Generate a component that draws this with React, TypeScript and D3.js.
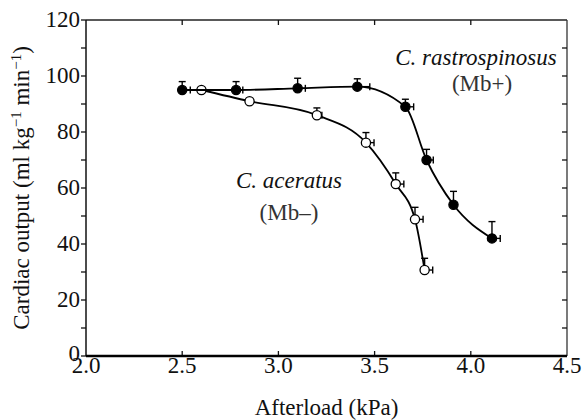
import * as d3 from 'd3'

// C. rastrospinosus (Mb+), filled symbols
const filledX = [2.5, 2.78, 3.1, 3.41, 3.66, 3.77, 3.91, 4.11]
const filledY = [95, 95, 95.6, 96.2, 89, 70, 54, 42]
const filledYErr = [3, 3, 3.6, 2.8, 2.7, 3.8, 4.8, 6]
const filledXErr = [0.042, 0.035, 0.04, 0.065, 0.043, 0.035, 0, 0.043]

// C. aceratus (Mb–), open symbols
const openX = [2.6, 2.85, 3.2, 3.455, 3.61, 3.71, 3.76]
const openY = [95, 91, 86, 76.2, 61.4, 48.8, 30.7]
const openYErr = [0, 0, 2.6, 3.6, 4, 4.3, 4.2]
const openXErr = [0, 0, 0.026, 0.042, 0.042, 0.042, 0.042]

const xTicks = [2.0, 2.5, 3.0, 3.5, 4.0, 4.5]
const yTicks = [0, 20, 40, 60, 80, 100, 120]
const yMinorTicks = d3.range(0, 121, 10)

const W = 586
const H = 420
const margin = { left: 86, right: 19, top: 20, bottom: 64 }
const FONT = '"Liberation Serif", "DejaVu Serif", serif'

const x = d3.scaleLinear().domain([2.0, 4.5]).range([margin.left, W - margin.right])
const y = d3.scaleLinear().domain([0, 120]).range([H - margin.bottom, margin.top])

const line = d3
  .line<[number, number]>()
  .x(d => x(d[0]))
  .y(d => y(d[1]))
  .curve(d3.curveMonotoneX)

function Series({ xs, ys, xErr, yErr, filled }: { xs: number[]; ys: number[]; xErr: number[]; yErr: number[]; filled: boolean }) {
  const pts = xs.map((v, i) => [v, ys[i]] as [number, number])
  const cap = 3.5
  return (
    <g>
      <path d={line(pts) || ''} fill="none" stroke="#000" strokeWidth={1.8} />
      {pts.map((p, i) => {
        const cx = x(p[0])
        const cy = y(p[1])
        const yTop = y(p[1] + yErr[i])
        const xRight = x(p[0] + xErr[i])
        return (
          <g key={i} stroke="#000" strokeWidth={1.4}>
            {yErr[i] > 0 && (
              <>
                <line x1={cx} x2={cx} y1={cy} y2={yTop} />
                <line x1={cx - cap} x2={cx + cap} y1={yTop} y2={yTop} />
              </>
            )}
            {xErr[i] > 0 && (
              <>
                <line x1={cx} x2={xRight} y1={cy} y2={cy} />
                <line x1={xRight} x2={xRight} y1={cy - cap} y2={cy + cap} />
              </>
            )}
            <circle cx={cx} cy={cy} r={4.6} fill={filled ? '#000' : '#fff'} strokeWidth={1.3} />
          </g>
        )
      })}
    </g>
  )
}

export default function App() {
  const [x0, x1] = x.range()
  const [y0, y1] = y.range()
  const tick = 5
  return (
    <svg width={W} height={H} style={{ position: 'absolute', left: 0, top: 0 }} fontFamily={FONT}>
      <rect width={W} height={H} fill="#fff" />

      {/* frame */}
      <line x1={x0} x2={x1} y1={y1} y2={y1} stroke="#222" strokeWidth={1.3} />
      <line x1={x1} x2={x1} y1={y1} y2={y0} stroke="#333" strokeWidth={1.3} />
      <line x1={x0} x2={x0} y1={y1} y2={y0} stroke="#111" strokeWidth={1.5} />

      {/* y ticks: outward on the left, inward on the right */}
      {yMinorTicks.map(t => (
        <g key={t} stroke="#111" strokeWidth={1.3}>
          <line x1={x0 - tick} x2={x0} y1={y(t)} y2={y(t)} />
          {t > 0 && t < 120 && <line x1={x1 - tick} x2={x1} y1={y(t)} y2={y(t)} />}
        </g>
      ))}
      {yTicks.map(t => (
        <text key={t} x={x0 - 6} y={y(t)} dy={t === 0 ? '0.22em' : '0.32em'} textAnchor="end" fontSize={23} fill="#111">
          {t}
        </text>
      ))}

      {/* x ticks: inward on bottom and top */}
      {xTicks.slice(1, -1).map(t => (
        <g key={t} stroke="#111" strokeWidth={1.3}>
          <line x1={x(t)} x2={x(t)} y1={y0} y2={y0 - tick} />
          <line x1={x(t)} x2={x(t)} y1={y1} y2={y1 + tick} />
        </g>
      ))}
      <line x1={x0} x2={x1} y1={y0} y2={y0} stroke="#000" strokeWidth={2.6} />
      {xTicks.map(t => (
        <text key={t} x={x(t)} y={y0 + 17} textAnchor="middle" fontSize={23} fill="#111">
          {t.toFixed(1)}
        </text>
      ))}

      {/* axis titles */}
      <text x={(x0 + x1) / 2} y={415} textAnchor="middle" fontSize={23} fill="#111">
        Afterload (kPa)
      </text>
      <text transform={`translate(29,${(y0 + y1) / 2}) rotate(-90)`} textAnchor="middle" fontSize={23} fill="#111">
        Cardiac output (ml kg
        <tspan dy={-8} fontSize={15}>−1</tspan>
        <tspan dy={8}> min</tspan>
        <tspan dy={-8} fontSize={15}>−1</tspan>
        <tspan dy={8}>)</tspan>
      </text>

      <Series xs={openX} ys={openY} xErr={openXErr} yErr={openYErr} filled={false} />
      <Series xs={filledX} ys={filledY} xErr={filledXErr} yErr={filledYErr} filled={true} />

      {/* species labels */}
      <text x={476} y={65} textAnchor="middle" fontSize={23} fontStyle="italic" fill="#111">
        C. rastrospinosus
      </text>
      <text x={482} y={91} textAnchor="middle" fontSize={23} fill="#333">
        (Mb+)
      </text>
      <text x={289} y={188} textAnchor="middle" fontSize={23} fontStyle="italic" fill="#111">
        C. aceratus
      </text>
      <text x={289} y={220} textAnchor="middle" fontSize={23} fill="#333">
        (Mb–)
      </text>
    </svg>
  )
}
